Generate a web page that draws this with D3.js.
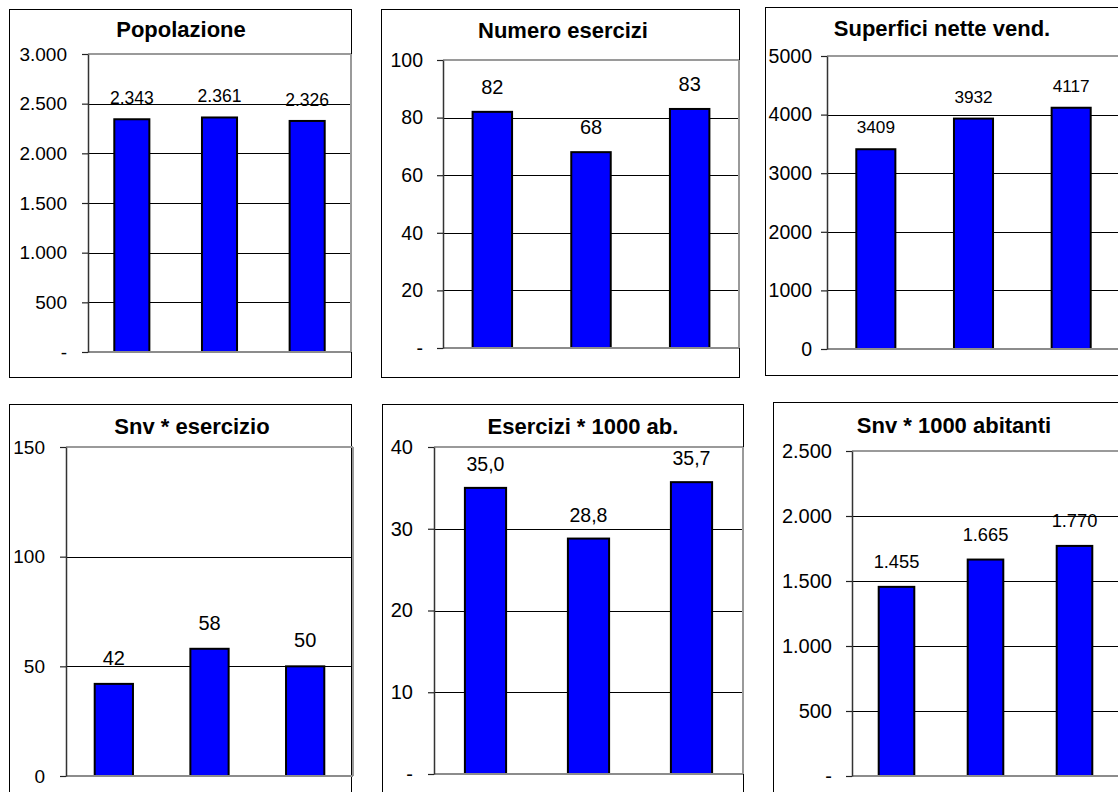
<!DOCTYPE html>
<html>
<head>
<meta charset="utf-8">
<script src="https://cdn.jsdelivr.net/npm/d3@7"></script>
<style>
  html, body { margin: 0; padding: 0; background: #fff; }
  svg { display: block; font-family: "Liberation Sans", Arial, sans-serif; }
</style>
</head>
<body>
<svg id="chart" width="1118" height="792"></svg>
<script>
// ---------- DATA ----------
const categories = ["1", "2", "3"];

const titles = ["Popolazione", "Numero esercizi", "Superfici nette vend.",
                "Snv * esercizio", "Esercizi * 1000 ab.", "Snv * 1000 abitanti"];

const popolazione     = [2343, 2361, 2326];
const numeroEsercizi  = [82, 68, 83];
const superfici       = [3409, 3932, 4117];
const snvEsercizio    = [42, 58, 50];
const esercizi1000    = [35.0, 28.8, 35.7];
const snv1000         = [1455, 1665, 1770];

const popTickValues = [0, 500, 1000, 1500, 2000, 2500, 3000];
const popTickLabels = ["-", "500", "1.000", "1.500", "2.000", "2.500", "3.000"];
const numTickValues = [0, 20, 40, 60, 80, 100];
const numTickLabels = ["-", "20", "40", "60", "80", "100"];
const supTickValues = [0, 1000, 2000, 3000, 4000, 5000];
const supTickLabels = ["0", "1000", "2000", "3000", "4000", "5000"];
const snvETickValues = [0, 50, 100, 150];
const snvETickLabels = ["0", "50", "100", "150"];
const eseTickValues = [0, 10, 20, 30, 40];
const eseTickLabels = ["-", "10", "20", "30", "40"];
const snvATickValues = [0, 500, 1000, 1500, 2000, 2500];
const snvATickLabels = ["-", "500", "1.000", "1.500", "2.000", "2.500"];

// ---------- FORMAT ----------
const it = d3.formatLocale({decimal: ",", thousands: ".", grouping: [3], currency: ["€", ""]});
const fmtThousands = it.format(",d");
const fmtPlain = it.format("d");
const fmtOne = it.format(".1f");

// ---------- LAYOUT ----------
const panels = [
  {title: titles[0], values: popolazione, tv: popTickValues, tl: popTickLabels, fmt: fmtThousands,
   box: [9, 9, 351, 377], plot: [88, 54, 351, 352], tx: 181, ty: 37,
   tickFs: 19, valFs: 17.5, valOff: 15, labGap: 15},
  {title: titles[1], values: numeroEsercizi, tv: numTickValues, tl: numTickLabels, fmt: fmtPlain,
   box: [381, 9, 739, 377], plot: [443, 60, 739, 348], tx: 563, ty: 38,
   tickFs: 19.5, valFs: 20, valOff: 18, labGap: 14},
  {title: titles[2], values: superfici, tv: supTickValues, tl: supTickLabels, fmt: fmtPlain,
   box: [765, 7, 1130, 375], plot: [827, 56, 1120, 349], tx: 942, ty: 36,
   tickFs: 19.5, valFs: 17.2, valOff: 16, labGap: 9},
  {title: titles[3], values: snvEsercizio, tv: snvETickValues, tl: snvETickLabels, fmt: fmtPlain,
   box: [9, 404, 351, 800], plot: [66, 447, 353, 776], tx: 192, ty: 434,
   tickFs: 19, valFs: 20, valOff: 19, labGap: 15},
  {title: titles[4], values: esercizi1000, tv: eseTickValues, tl: eseTickLabels, fmt: fmtOne,
   box: [382, 404, 743, 800], plot: [434, 447, 743, 774], tx: 583, ty: 434,
   tickFs: 20, valFs: 19.5, valOff: 17, labGap: 15},
  {title: titles[5], values: snv1000, tv: snvATickValues, tl: snvATickLabels, fmt: fmtThousands,
   box: [773, 402, 1130, 800], plot: [852, 451, 1119, 776], tx: 954, ty: 433,
   tickFs: 20, valFs: 18.3, valOff: 18.5, labGap: 14}
];

const svg = d3.select("#chart");

panels.forEach(p => {
  const g = svg.append("g");
  const [bx0, by0, bx1, by1] = p.box;
  const [px0, py0, px1, py1] = p.plot;

  // outer chart box
  g.append("rect")
    .attr("x", bx0 + 0.5).attr("y", by0 + 0.5)
    .attr("width", bx1 - bx0).attr("height", by1 - by0)
    .attr("fill", "#fff").attr("stroke", "#000").attr("stroke-width", 1);

  // title
  g.append("text")
    .attr("x", p.tx).attr("y", p.ty)
    .attr("text-anchor", "middle")
    .attr("font-weight", "bold")
    .attr("font-size", 22)
    .attr("fill", "#000")
    .text(p.title);

  const x = d3.scaleBand().domain(categories).range([px0, px1])
    .paddingInner(0.6).paddingOuter(0.3);
  const y = d3.scaleLinear().domain([p.tv[0], p.tv[p.tv.length - 1]]).range([py1, py0]);

  // gridlines (interior)
  g.append("g").selectAll("line")
    .data(p.tv.slice(1, -1))
    .join("line")
    .attr("x1", px0).attr("x2", px1)
    .attr("y1", d => Math.round(y(d)) + 0.5).attr("y2", d => Math.round(y(d)) + 0.5)
    .attr("stroke", "#000").attr("stroke-width", 1);

  // plot border: top, right, bottom gray
  const border = g.append("g").attr("fill", "none").attr("stroke", "#9a9a9a").attr("stroke-width", 2);
  border.append("line").attr("x1", px0).attr("x2", px1).attr("y1", y(p.tv[p.tv.length - 1])).attr("y2", y(p.tv[p.tv.length - 1]));
  border.append("line").attr("x1", px1).attr("x2", px1).attr("y1", py0).attr("y2", py1);

  // bars
  g.append("g").selectAll("rect")
    .data(p.values)
    .join("rect")
    .attr("x", (d, i) => x(categories[i]))
    .attr("y", d => y(d))
    .attr("width", x.bandwidth())
    .attr("height", d => y(0) - y(d))
    .attr("fill", "#0000ff")
    .attr("stroke", "#000")
    .attr("stroke-width", 2);

  // bottom axis line (gray)
  g.append("line").attr("x1", px0).attr("x2", px1)
    .attr("y1", y(0)).attr("y2", y(0))
    .attr("stroke", "#8c8c8c").attr("stroke-width", 2);

  // value labels
  g.append("g").selectAll("text")
    .data(p.values)
    .join("text")
    .attr("x", (d, i) => x(categories[i]) + x.bandwidth() / 2)
    .attr("y", d => y(d) - p.valOff)
    .attr("text-anchor", "middle")
    .attr("font-size", p.valFs)
    .attr("fill", "#000")
    .text(d => p.fmt(d));

  // y axis
  const axis = d3.axisLeft(y)
    .tickValues(p.tv)
    .tickFormat((d, i) => p.tl[i])
    .tickSizeInner(6).tickSizeOuter(0).tickPadding(p.labGap);
  const ag = g.append("g").attr("transform", `translate(${px0},0)`).call(axis);
  ag.select(".domain").attr("stroke", "#333").attr("stroke-width", 1.5);
  ag.selectAll(".tick line").attr("stroke", "#222").attr("stroke-width", 1.2);
  ag.selectAll(".tick text")
    .attr("font-size", p.tickFs)
    .attr("font-family", "'Liberation Sans', Arial, sans-serif")
    .attr("fill", "#000");
});
</script>
</body>
</html>
